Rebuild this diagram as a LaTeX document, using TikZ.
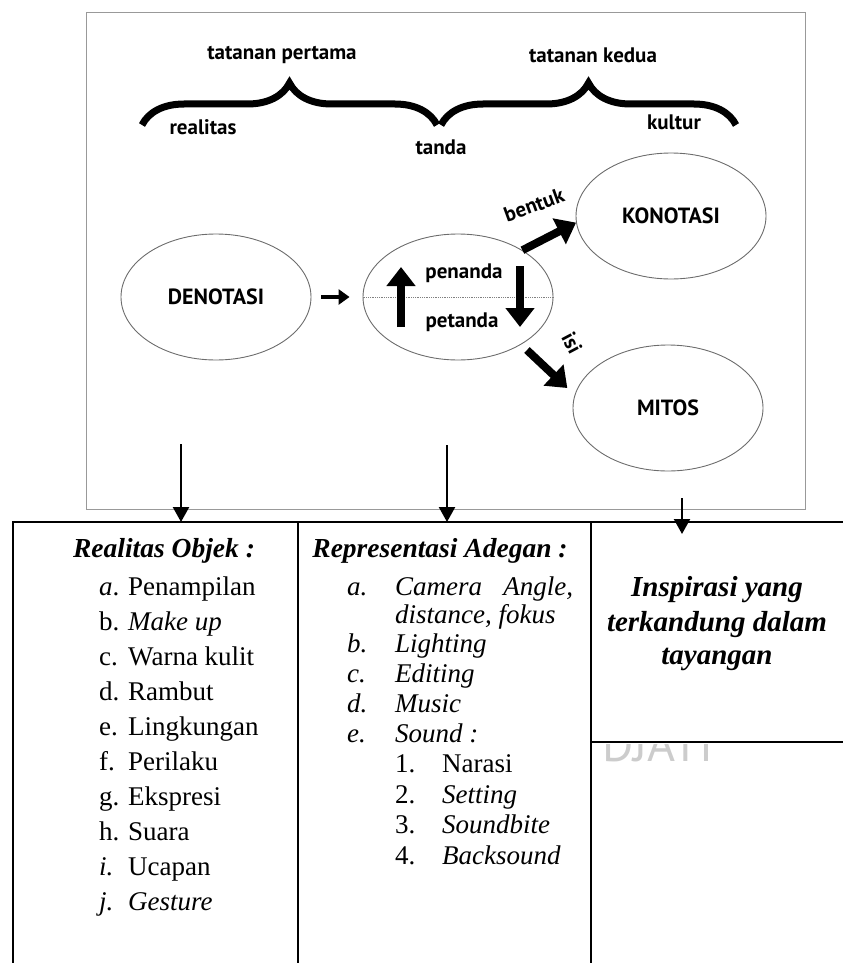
\documentclass[tikz,border=0pt]{standalone}
\usepackage{fontspec}
\setmainfont{Liberation Serif}
\newfontfamily\schemefont{PT Sans}
\usetikzlibrary{arrows.meta, positioning, shapes.geometric, decorations.pathreplacing}

\tikzset{
  framegray/.style={draw=gray!80, line width=1pt},
  oval/.style={ellipse, draw=gray!85!black, line width=0.9pt, minimum width=190pt, minimum height=126pt,
    font=\schemefont\bfseries\fontsize{22}{26}\selectfont},
  toptext/.style={inner sep=0pt, font=\schemefont\bfseries\fontsize{21}{25}\selectfont},
  bigbrace/.style={decorate, decoration={brace, amplitude=42pt}, line width=7pt},
  fatarrow/.style={line width=8pt, -{Triangle[length=19pt, width=28pt]}},
  smallarrow/.style={line width=4pt, -{Triangle[length=11pt, width=15pt]}},
  downarrow/.style={line width=2.3pt, -{Triangle[length=15pt, width=16pt]}},
  tableline/.style={line width=2pt},
  listitem/.style={anchor=base west, inner sep=0pt, font=\fontsize{27}{30}\selectfont},
  headtext/.style={anchor=base, inner sep=0pt, font=\bfseries\itshape\fontsize{27.5}{32}\selectfont},
  sidetext/.style={anchor=base, inner sep=0pt, font=\bfseries\itshape\fontsize{29}{32}\selectfont}
}

\begin{document}
\begin{tikzpicture}[x=1pt, y=-1pt]
\useasboundingbox (0,0) rectangle (843,963);

% semiotic scheme
\draw[framegray] (86,13) rectangle (805,509);
\node[toptext] (first) at (282,55) {tatanan pertama};
\node[toptext] (second) at (593,55) {tatanan kedua};
\draw[bigbrace] (142,125) -- (437,125);
\draw[bigbrace] (441,125) -- (736,125);
\node[toptext] (real) at (203,127) {realitas};
\node[toptext] (sign) at (441,147) {tanda};
\node[toptext] (cult) at (674,122) {kultur};

\node[oval] (deno) at (216,297) {DENOTASI};
\node[oval] (mid) at (458,297) {};
\node[oval] (kono) at (671,216) {KONOTASI};
\node[oval] (mito) at (668,408) {MITOS};

\draw[densely dotted, gray, line width=0.8pt] (mid.west) -- (mid.east);
\draw[fatarrow] (401,327) -- (401,267);
\draw[fatarrow] (520,266) -- (520,327);
\node[toptext] (sr) at (464,273) {penanda};
\node[toptext] (sd) at (462,322) {petanda};

\draw[smallarrow, shorten <=10pt, shorten >=13pt] (deno.east) -- (mid.west);
\draw[fatarrow] (mid.36) -- (kono.184);
\node[toptext, rotate=20] (form) at (534,205) {bentuk};
\draw[fatarrow, shorten <=8pt, shorten >=10pt] (mid.-37) -- (mito.172);
\node[toptext, rotate=-62] (cont) at (572,343) {isi};

% arrows into the table
\coordinate (s1) at (181,444);
\coordinate (t1) at (181,522);
\coordinate (s2) at (447,445);
\coordinate (t2) at (447,522);
\coordinate (s3) at (682,498);
\coordinate (t3) at (682,534);
\draw[downarrow] (s1) -- (t1);
\draw[downarrow] (s2) -- (t2);
\draw[downarrow] (s3) -- (t3);

% table
\draw[tableline] (13,963) -- (13,522) -- (843,522);
\draw[tableline] (298,522) -- (298,963);
\draw[tableline] (591,522) -- (591,963);
\draw[tableline] (591,742) -- (843,742);

\begin{scope}
  \clip (593,744) rectangle (843,800);
  \node[anchor=base, inner sep=0pt, text=gray!40, font=\schemefont\fontsize{48}{50}\selectfont] (mark) at (658,761) {DJATI};
\end{scope}

% column 1
\node[headtext] (h1) at (164,557) {Realitas Objek :};
\foreach \lab/\txt [count=\i from 0] in {\textit{a}./Penampilan, b./\textit{Make up}, c./Warna kulit,
    d./Rambut, e./Lingkungan, f./Perilaku, g./Ekspresi, h./Suara, \textit{i.}/Ucapan, \textit{j.}/\textit{Gesture}}
{
  \node[listitem] (la\i) at (99,595+35.1*\i) {\lab};
  \node[listitem] (lt\i) at (128,595+35.1*\i) {\txt};
}

% column 2
\node[headtext] (h2) at (440,557) {Representasi Adegan :};
\foreach \lab/\txt/\yy in {a./\makebox[178pt][s]{Camera Angle,}/595, /distance{,} fokus/623, b./Lighting/652,
    c./Editing/682, d./Music/712, e./Sound :/742}
{
  \node[listitem, font=\itshape\fontsize{27}{30}\selectfont] at (347,\yy) {\lab};
  \node[listitem, font=\itshape\fontsize{27}{30}\selectfont] at (395,\yy) {\txt};
}
\foreach \lab/\txt/\yy in {1./Narasi/772, 2./\textit{Setting}/803, 3./\textit{Soundbite}/833, 4./\textit{Backsound}/864}
{
  \node[listitem] at (395,\yy) {\lab};
  \node[listitem] at (442,\yy) {\txt};
}

% column 3
\node[sidetext] (h3a) at (717,596) {Inspirasi yang};
\node[sidetext] (h3b) at (717,631) {terkandung dalam};
\node[sidetext] (h3c) at (717,664) {tayangan};
\end{tikzpicture}
\end{document}
